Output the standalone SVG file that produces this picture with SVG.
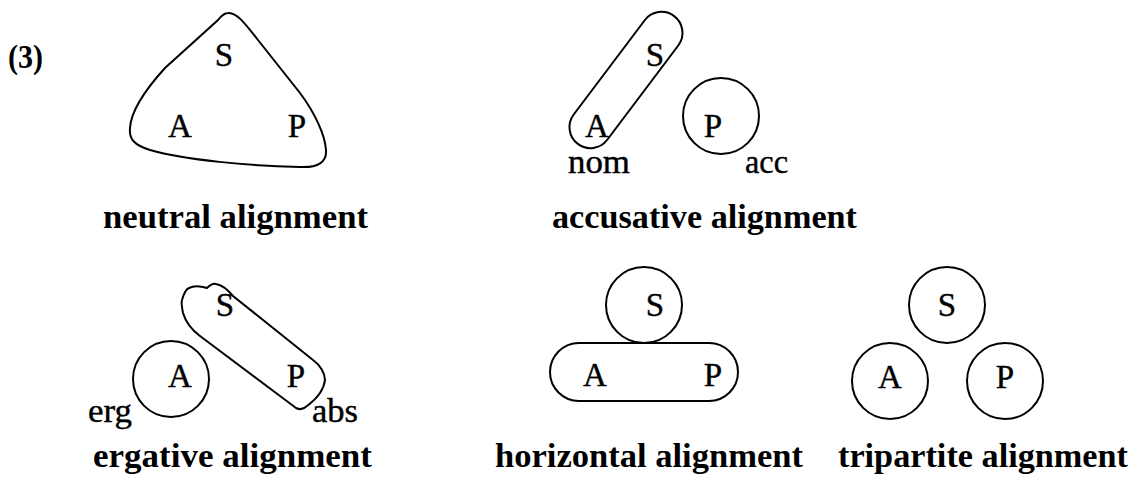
<svg xmlns="http://www.w3.org/2000/svg" width="1134" height="478" viewBox="0 0 1134 478">
<style>
.ln{fill:none;stroke:#000;stroke-width:2}
.r{font-family:"Liberation Serif",serif;font-size:33px;fill:#000;stroke:#000;stroke-width:0.4}
.c{font-family:"Liberation Serif",serif;font-size:33px;fill:#000;stroke:#000;stroke-width:0.4;text-anchor:middle}
.b{font-family:"Liberation Serif",serif;font-size:34px;font-weight:bold;fill:#000}
</style>
<rect width="1134" height="478" fill="#fff"/>
<text class="b" x="8" y="68" textLength="35" lengthAdjust="spacingAndGlyphs">(3)</text>
<g id="neutral">
<path class="ln" d="M228,13 C236,12 244,22 258,40 L300,93 C315,113 325,135 326,150 C327,162 318,168 300,167 C250,166 185,160 150,150 C134,145 129,139 130,128 C131,110 145,90 165,68 L218,20 C222,15 225,13 228,13 Z"/>
<text class="c" x="224" y="66">S</text>
<text class="c" x="180" y="137">A</text>
<text class="c" x="297" y="137">P</text>
<text class="b" x="103" y="228" textLength="265" lengthAdjust="spacingAndGlyphs">neutral alignment</text>
</g>
<g id="accusative">
<rect class="ln" x="546" y="59" width="160" height="42" rx="21" transform="rotate(-53 626 80)"/>
<text class="c" x="655" y="66">S</text>
<text class="c" x="597" y="137">A</text>
<circle class="ln" cx="721" cy="116" r="38"/>
<text class="c" x="713" y="137">P</text>
<text class="r" x="568" y="173" textLength="62" lengthAdjust="spacingAndGlyphs">nom</text>
<text class="r" x="745" y="173" textLength="43" lengthAdjust="spacingAndGlyphs">acc</text>
<text class="b" x="552" y="228" textLength="305" lengthAdjust="spacingAndGlyphs">accusative alignment</text>
</g>
<g id="ergative">
<circle class="ln" cx="171" cy="379" r="38"/>
<text class="c" x="180" y="387">A</text>
<path class="ln" d="M182,300 C184,293 186,289 189,288 C193,286 200,286 207,288 C210,285 213,283 216,284 C222,285 228,290 233,296 L313,360 C320,365 325,373 325,380 C324,388 318,398 307,406 C304,409 300,410 296,408 L200,336 C192,330 186,323 183,313 C182,308 181,303 182,300 Z"/>
<text class="c" x="225" y="316">S</text>
<text class="c" x="296" y="387">P</text>
<text class="r" x="88" y="422" textLength="44" lengthAdjust="spacingAndGlyphs">erg</text>
<text class="r" x="312" y="422" textLength="46" lengthAdjust="spacingAndGlyphs">abs</text>
<text class="b" x="93" y="467" textLength="279" lengthAdjust="spacingAndGlyphs">ergative alignment</text>
</g>
<g id="horizontal">
<circle class="ln" cx="644" cy="305" r="38"/>
<text class="c" x="655" y="316">S</text>
<rect class="ln" x="550" y="343" width="188" height="58" rx="29"/>
<text class="c" x="595" y="386">A</text>
<text class="c" x="713" y="386">P</text>
<text class="b" x="495" y="467" textLength="308" lengthAdjust="spacingAndGlyphs">horizontal alignment</text>
</g>
<g id="tripartite">
<circle class="ln" cx="947" cy="305" r="38"/>
<text class="c" x="947" y="316">S</text>
<circle class="ln" cx="890" cy="381" r="38"/>
<text class="c" x="890" y="388">A</text>
<circle class="ln" cx="1005" cy="381" r="38"/>
<text class="c" x="1005" y="388">P</text>
<text class="b" x="838" y="467" textLength="290" lengthAdjust="spacingAndGlyphs">tripartite alignment</text>
</g>
</svg>
